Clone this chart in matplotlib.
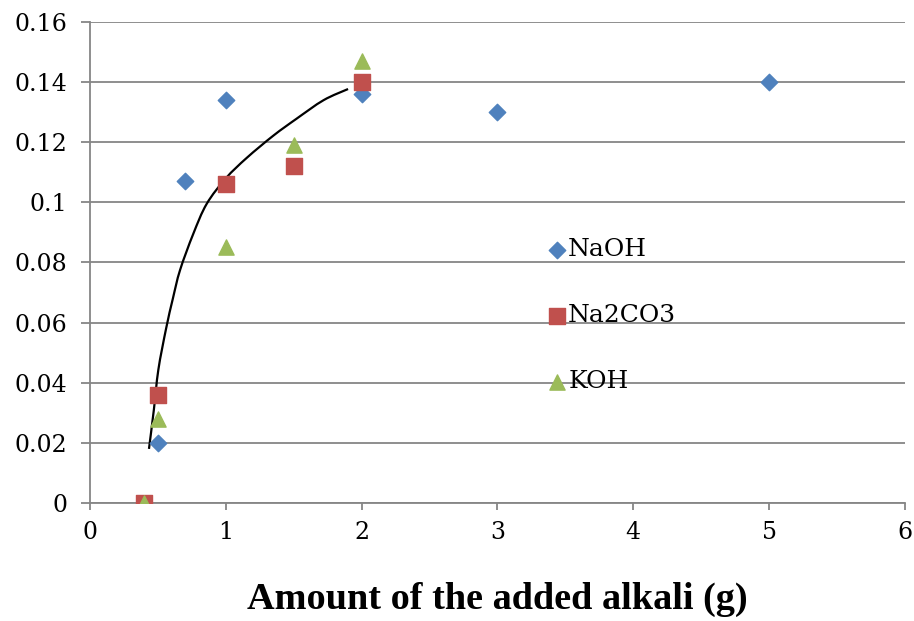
import matplotlib
matplotlib.use('Agg')
import matplotlib.pyplot as plt
from matplotlib.path import Path
from matplotlib.patches import PathPatch
import numpy as np

# data
naoh_x = [0.5, 0.7, 1.0, 2.0, 3.0, 5.0]
naoh_y = [0.020, 0.107, 0.134, 0.136, 0.130, 0.140]
na2co3_x = [0.4, 0.5, 1.0, 1.5, 2.0]
na2co3_y = [0.000, 0.036, 0.106, 0.112, 0.140]
koh_x = [0.4, 0.5, 1.0, 1.5, 2.0]
koh_y = [0.000, 0.028, 0.085, 0.119, 0.147]

# hand-drawn trend curve
curve_x = [0.434, 0.47, 0.503, 0.56, 0.61, 0.663, 0.76, 0.859, 1.0, 1.154, 1.35, 1.52, 1.72, 1.90]
curve_y = [0.018, 0.031, 0.0443, 0.058, 0.068, 0.0775, 0.0895, 0.0995, 0.108, 0.1148, 0.1222, 0.1278, 0.1340, 0.1377]

xticks = [0, 1, 2, 3, 4, 5, 6]
yticks = [0, 0.02, 0.04, 0.06, 0.08, 0.1, 0.12, 0.14, 0.16]
ytick_labels = ['0', '0.02', '0.04', '0.06', '0.08', '0.1', '0.12', '0.14', '0.16']

plt.rcParams['font.family'] = ['DejaVu Serif']
grid_col = '#868686'

fig = plt.figure(figsize=(9.14, 6.21), dpi=100)
ax = fig.add_axes([0.0985, 0.19, 0.8915, 0.7746])

# smooth curve: cubic bezier segments through the read points
pts = np.column_stack([curve_x, curve_y])
verts = [pts[0]]
codes = [Path.MOVETO]
n = len(pts)
for i in range(n - 1):
    p0 = pts[max(i - 1, 0)]
    p1 = pts[i]
    p2 = pts[i + 1]
    p3 = pts[min(i + 2, n - 1)]
    verts += [p1 + (p2 - p0) / 6.0, p2 - (p3 - p1) / 6.0, p2]
    codes += [Path.CURVE4] * 3
curve = PathPatch(Path(verts, codes), facecolor='none', edgecolor='black', lw=1.6, zorder=2)
ax.add_patch(curve)

ax.scatter(naoh_x, naoh_y, marker='D', s=70, color='#4F81BD', label='NaOH', zorder=3)
ax.scatter(na2co3_x, na2co3_y, marker='s', s=120, color='#C0504D', label='Na2CO3', zorder=3)
ax.scatter(koh_x, koh_y, marker='^', s=120, color='#9BBB59', label='KOH', zorder=4)

ax.set_xlim(0, 6)
ax.set_ylim(0, 0.16)
ax.set_xticks(xticks)
ax.set_yticks(yticks)
ax.set_yticklabels(ytick_labels)
ax.yaxis.grid(True, color=grid_col, lw=1.3)
ax.set_axisbelow(True)
for s in ['top', 'right']:
    ax.spines[s].set_visible(False)
for s in ['left', 'bottom']:
    ax.spines[s].set_color(grid_col)
    ax.spines[s].set_linewidth(1.3)
ax.tick_params(axis='both', colors=grid_col, labelcolor='black', labelsize=17,
               width=1.3, direction='out')
ax.tick_params(axis='x', length=5, pad=8)
ax.tick_params(axis='y', length=6.5, pad=10)

ax.set_xlabel('Amount of the added alkali (g)', family='Liberation Serif',
              fontweight='bold', fontsize=27.5, labelpad=27)

leg = ax.legend(loc='upper left', bbox_to_anchor=(0.5454, 0.5707), frameon=False,
                fontsize=18, labelspacing=1.72, handletextpad=-0.05,
                handlelength=1.0, borderaxespad=0)

fig.savefig('out.png', dpi=100)
